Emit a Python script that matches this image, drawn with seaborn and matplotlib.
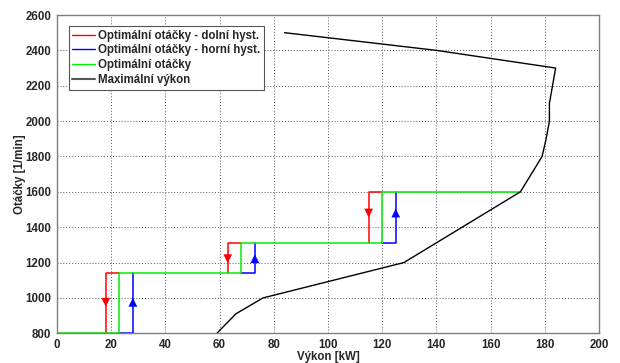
import numpy as np
import pandas as pd
import matplotlib
matplotlib.use("Agg")
import matplotlib.pyplot as plt
from matplotlib.lines import Line2D
import seaborn as sns

# Engine speed levels [1/min] and optimal switching power [kW]
speed_levels = [800, 1140, 1310, 1600]
optimal_power = [23, 68, 120]
hysteresis = 5
power_at_top_level = 171
arrow_speed = [975, 1222, 1480]

# Maximum power curve
max_power = [59, 66, 76, 128, 171, 179, 180.5, 181.7, 181.7, 184, 140, 84]
max_speed = [800, 910, 1000, 1200, 1600, 1800, 1900, 2000, 2100, 2300, 2400, 2500]

sns.set_style("white")
plt.rcParams["font.family"] = ["Liberation Sans", "DejaVu Sans"]
plt.rcParams["font.weight"] = "bold"

# Build polylines from thresholds
green_x = [0]
green_y = [speed_levels[0]]
for i, g in enumerate(optimal_power):
    green_x += [g, g]
    green_y += [speed_levels[i], speed_levels[i + 1]]
green_x.append(power_at_top_level)
green_y.append(speed_levels[-1])
green = pd.DataFrame({"P": green_x, "n": green_y})

red_rows, blue_rows = [], []
for i, g in enumerate(optimal_power):
    lo, hi = speed_levels[i], speed_levels[i + 1]
    for x, y in [(g - hysteresis, lo), (g - hysteresis, hi), (g, hi)]:
        red_rows.append({"P": x, "n": y, "seg": i})
    for x, y in [(g, lo), (g + hysteresis, lo), (g + hysteresis, hi)]:
        blue_rows.append({"P": x, "n": y, "seg": i})
red = pd.DataFrame(red_rows)
blue = pd.DataFrame(blue_rows)
curve = pd.DataFrame({"P": max_power, "n": max_speed})

down_marks = pd.DataFrame({"P": [g - hysteresis for g in optimal_power], "n": arrow_speed})
up_marks = pd.DataFrame({"P": [g + hysteresis for g in optimal_power], "n": arrow_speed})

fig = plt.figure(figsize=(6.2, 3.63), dpi=100)
ax = fig.add_axes([57 / 620, 1 - 333.3 / 363, 542 / 620, 318.3 / 363])

RED, BLUE, GREEN = "#ff0000", "#0000ff", "#00ee00"

sns.lineplot(data=red, x="P", y="n", units="seg", estimator=None, sort=False,
             color=RED, lw=1.1, ax=ax)
sns.lineplot(data=blue, x="P", y="n", units="seg", estimator=None, sort=False,
             color=BLUE, lw=1.1, ax=ax)
sns.lineplot(data=green, x="P", y="n", estimator=None, sort=False,
             color=GREEN, lw=1.1, ax=ax)
sns.lineplot(data=curve, x="P", y="n", estimator=None, sort=False,
             color="black", lw=1.0, ax=ax)
sns.scatterplot(data=down_marks, x="P", y="n", marker="v", s=40, color=RED,
                edgecolor="none", ax=ax, zorder=5)
sns.scatterplot(data=up_marks, x="P", y="n", marker="^", s=40, color=BLUE,
                edgecolor="none", ax=ax, zorder=5)

ax.set_xlim(0, 200)
ax.set_ylim(800, 2600)
ax.set_xticks(np.arange(0, 201, 20))
ax.set_yticks(np.arange(800, 2601, 200))
ax.grid(True, linestyle=(0, (1, 2)), color="#555555", lw=0.7)
ax.set_axisbelow(True)
for s in ax.spines.values():
    s.set_color("#7f7f7f")
    s.set_linewidth(1.0)
ax.tick_params(axis="both", direction="out", length=2.5, width=0.8,
               color="#7f7f7f", labelsize=8.3, pad=1.5)
for lab in ax.get_xticklabels() + ax.get_yticklabels():
    lab.set_fontweight("bold")

ax.set_xlabel("Výkon [kW]", fontsize=8.3, fontweight="bold", labelpad=0)
ax.set_ylabel("Otáčky [1/min]", fontsize=8.3, fontweight="bold")
ax.yaxis.set_label_coords(-0.058, 0.5)

handles = [
    Line2D([], [], color=RED, lw=1.0),
    Line2D([], [], color=BLUE, lw=1.0),
    Line2D([], [], color=GREEN, lw=1.0),
    Line2D([], [], color="#555555", lw=1.5),
]
labels = ["Optimální otáčky - dolní hyst.", "Optimální otáčky - horní hyst.",
          "Optimální otáčky", "Maximální výkon"]
leg = ax.legend(handles, labels, loc="upper left", bbox_to_anchor=(0.022, 0.965),
                fancybox=False, framealpha=1, edgecolor="#555555",
                prop={"size": 8.3, "weight": "bold"}, handlelength=2.0,
                handletextpad=0.25, borderpad=0.3, labelspacing=0.25,
                borderaxespad=0)
leg.get_frame().set_linewidth(0.8)

fig.savefig("out.png", dpi=100)
